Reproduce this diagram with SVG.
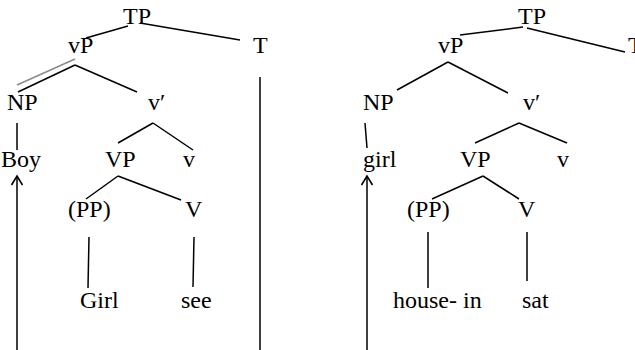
<svg xmlns="http://www.w3.org/2000/svg" width="635" height="350" viewBox="0 0 635 350">
<defs>
<style>
line{stroke:#000;stroke-width:1.5;fill:none}
.grey{stroke:#8a8a8a}
</style>
<marker id="arr" markerWidth="14" markerHeight="14" refX="11" refY="7" orient="auto" markerUnits="userSpaceOnUse">
<path d="M2,1.5 L11,7 L2,12.5" fill="none" stroke="#000" stroke-width="1.6"/>
</marker>
</defs>
<rect width="635" height="350" fill="#fff"/>
<g id="connectors">
<line x1="128" y1="26" x2="86" y2="38"/>
<line x1="140" y1="23" x2="240" y2="40"/>
<line class="grey" x1="17" y1="85" x2="75" y2="59"/>
<line x1="18" y1="92" x2="75" y2="65"/>
<line x1="75" y1="65" x2="137" y2="92"/>
<line x1="260" y1="77" x2="260" y2="350"/>
<line x1="17" y1="123" x2="17" y2="150"/>
<line x1="153" y1="123" x2="118" y2="143"/>
<line x1="153" y1="123" x2="193" y2="150"/>
<line x1="118" y1="176" x2="86" y2="199"/>
<line x1="118" y1="176" x2="181" y2="200"/>
<line x1="89" y1="237" x2="88" y2="288"/>
<line x1="194" y1="237" x2="193" y2="287"/>
<line x1="17" y1="350" x2="17" y2="176" marker-end="url(#arr)"/>
<line x1="523" y1="27" x2="460" y2="35"/>
<line x1="527" y1="28" x2="625" y2="52"/>
<line x1="448" y1="62" x2="397" y2="90"/>
<line x1="448" y1="62" x2="508" y2="93"/>
<line x1="365" y1="123" x2="367" y2="148"/>
<line x1="519" y1="123" x2="475" y2="143"/>
<line x1="519" y1="123" x2="567" y2="143"/>
<line x1="483" y1="176" x2="432" y2="199"/>
<line x1="483" y1="176" x2="519" y2="199"/>
<line x1="428" y1="232" x2="428" y2="288"/>
<line x1="527" y1="232" x2="527" y2="281"/>
<line x1="367" y1="350" x2="367" y2="176" marker-end="url(#arr)"/>
</g>
<g font-family="Liberation Serif, DejaVu Serif, Times New Roman, serif" font-size="24" fill="#000">
<g id="L-TP"><text x="123" y="24">TP</text></g>
<g id="L-vP"><text x="68" y="53">vP</text></g>
<g id="L-T"><text x="253" y="53">T</text></g>
<g id="L-NP"><text x="7" y="110">NP</text></g>
<g id="L-vbar"><text x="148" y="110">v′</text></g>
<g id="L-Boy"><text x="1" y="167">Boy</text></g>
<g id="L-VP"><text x="105" y="167">VP</text></g>
<g id="L-v"><text x="183" y="167">v</text></g>
<g id="L-PP"><text x="68" y="217">(PP)</text></g>
<g id="L-V"><text x="185" y="217">V</text></g>
<g id="L-Girl"><text x="80" y="308">Girl</text></g>
<g id="L-see"><text x="181" y="308">see</text></g>
<g id="R-TP"><text x="518" y="24">TP</text></g>
<g id="R-vP"><text x="438" y="53">vP</text></g>
<g id="R-T"><text x="628" y="53">T</text></g>
<g id="R-NP"><text x="363" y="110">NP</text></g>
<g id="R-vbar"><text x="523" y="110">v′</text></g>
<g id="R-girl"><text x="363" y="167">girl</text></g>
<g id="R-VP"><text x="460" y="167">VP</text></g>
<g id="R-v"><text x="557" y="167">v</text></g>
<g id="R-PP"><text x="407" y="217">(PP)</text></g>
<g id="R-V"><text x="518" y="217">V</text></g>
<g id="R-house"><text x="393" y="308">house- in</text></g>
<g id="R-sat"><text x="522" y="308">sat</text></g>
</g>
</svg>
